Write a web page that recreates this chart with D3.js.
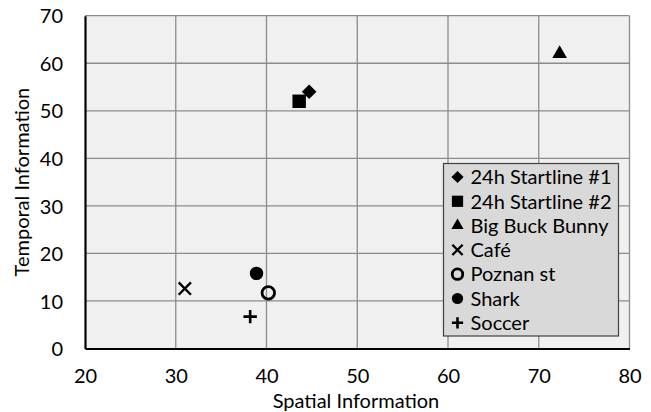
<!DOCTYPE html>
<html>
<head>
<meta charset="utf-8">
<script src="https://cdn.jsdelivr.net/npm/d3@7"></script>
<style>
  html, body { margin: 0; padding: 0; background: #fff; }
  svg text { font-family: Lato, "Open Sans", sans-serif; fill: #000; }
</style>
</head>
<body>
<svg id="chart" width="651" height="412"></svg>
<script>
// Spatial vs temporal information per test sequence
const sequences = ["24h Startline #1", "24h Startline #2", "Big Buck Bunny", "Café", "Poznan st", "Shark", "Soccer"];
const spatialInfo = [44.7, 43.6, 72.3, 31.0, 40.2, 38.9, 38.2];
const temporalInfo = [54, 52, 62, 12.6, 11.7, 15.8, 6.7];
const markerKinds = ["diamond", "square", "triangle", "x", "ring", "circle", "plus"];
const xTicks = [20, 30, 40, 50, 60, 70, 80];
const yTicks = [0, 10, 20, 30, 40, 50, 60, 70];

const svg = d3.select("#chart");
const x = d3.scaleLinear().domain([20, 80]).range([85, 629.5]);
const y = d3.scaleLinear().domain([0, 70]).range([348.5, 15.7]);

// plot background
svg.append("rect")
  .attr("x", x(20)).attr("y", y(70))
  .attr("width", x(80) - x(20)).attr("height", y(0) - y(70))
  .attr("fill", "#f0f0f0");

// grid lines
svg.append("g").selectAll("line").data(xTicks.slice(1))
  .join("line")
  .attr("x1", d => x(d)).attr("x2", d => x(d))
  .attr("y1", y(0)).attr("y2", y(70))
  .attr("stroke", "#8c8c8c").attr("stroke-width", 1.3);
svg.append("g").selectAll("line").data(yTicks.slice(1))
  .join("line")
  .attr("x1", x(20)).attr("x2", x(80))
  .attr("y1", d => y(d)).attr("y2", d => y(d))
  .attr("stroke", "#8c8c8c").attr("stroke-width", 1.3);

// axes (no tick marks, black lines on left and bottom)
const xAxis = d3.axisBottom(x).tickValues(xTicks).tickSize(0).tickPadding(20.5);
const yAxis = d3.axisLeft(y).tickValues(yTicks).tickSize(0).tickPadding(22);
const gx = svg.append("g").attr("transform", `translate(0,${y(0)})`).call(xAxis);
const gy = svg.append("g").attr("transform", `translate(${x(20)},0)`).call(yAxis);
[gx, gy].forEach(g => {
  g.select(".domain").attr("stroke", "#000").attr("stroke-width", 2.2);
  g.selectAll("text").attr("font-size", 20).attr("font-family", "Lato, sans-serif").attr("fill", "#000");
});
gy.selectAll("text").attr("dy", "0.36em");

// axis titles
svg.append("text")
  .attr("x", 356).attr("y", 408)
  .attr("text-anchor", "middle").attr("font-size", 20)
  .text("Spatial Information");
svg.append("text")
  .attr("transform", `translate(29,${(y(0) + y(70)) / 2}) rotate(-90)`)
  .attr("text-anchor", "middle").attr("font-size", 20)
  .text("Temporal Information");

// marker shapes, w = overall width in px
function drawMarker(g, kind, cx, cy, w) {
  const t = g.append("g").attr("transform", `translate(${cx},${cy})`);
  if (kind === "x") {
    const h = w * 0.42;
    t.append("path").attr("d", `M${-h},${-h}L${h},${h}M${-h},${h}L${h},${-h}`)
      .attr("stroke", "#000").attr("stroke-width", 2.4).attr("fill", "none");
  } else if (kind === "plus") {
    const h = w * 0.46;
    t.append("path").attr("d", `M${-h},0L${h},0M0,${-h}L0,${h}`)
      .attr("stroke", "#000").attr("stroke-width", 2.6).attr("fill", "none");
  } else if (kind === "ring") {
    t.append("circle").attr("r", w * 0.43)
      .attr("fill", "none").attr("stroke", "#000").attr("stroke-width", 2.8);
  } else {
    let sym, area;
    if (kind === "diamond") { sym = d3.symbolDiamond2; area = Math.pow(w / 1.2525, 2); }
    else if (kind === "square") { sym = d3.symbolSquare; area = w * w * 0.85; }
    else if (kind === "triangle") { sym = d3.symbolTriangle; area = 0.433 * w * w; }
    else { sym = d3.symbolCircle; area = Math.PI * w * w / 4 * 0.85; }
    t.append("path").attr("d", d3.symbol(sym, area)()).attr("fill", "#000");
  }
}

// data points
const points = svg.append("g");
sequences.forEach((name, i) => {
  drawMarker(points, markerKinds[i], x(spatialInfo[i]), y(temporalInfo[i]), 14.6);
});

// legend
const legend = svg.append("g");
legend.append("rect")
  .attr("x", 443.5).attr("y", 163.5).attr("width", 175).attr("height", 172.5)
  .attr("fill", "#d9d9d9").attr("stroke", "#404040").attr("stroke-width", 1.2);
sequences.forEach((name, i) => {
  const cy = 177 + i * 24.3;
  drawMarker(legend, markerKinds[i], 457.5, cy, 12.2);
  legend.append("text")
    .attr("x", 470.5).attr("y", cy).attr("dy", "0.36em")
    .attr("font-size", 20)
    .text(name);
});
</script>
</body>
</html>
